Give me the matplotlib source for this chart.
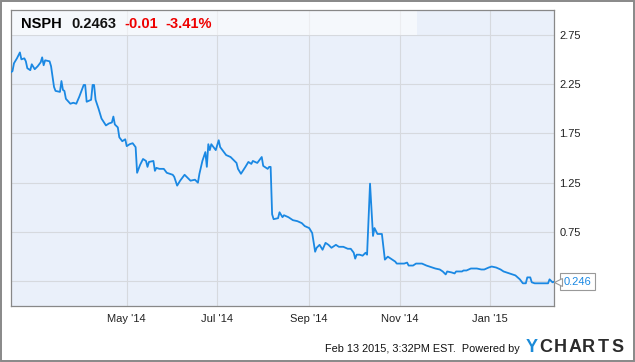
import matplotlib
matplotlib.use('Agg')
import matplotlib.pyplot as plt
import matplotlib.transforms as mtransforms
from matplotlib.patches import Rectangle
import pandas as pd

plt.rcParams['font.family'] = ['Liberation Sans', 'DejaVu Sans']

# price history
dates = [
    '2014-02-12', '2014-02-13', '2014-02-14', '2014-02-16', '2014-02-18', '2014-02-19',
    '2014-02-21', '2014-02-22', '2014-02-23', '2014-02-25', '2014-02-26', '2014-02-28',
    '2014-03-02', '2014-03-04', '2014-03-05', '2014-03-06', '2014-03-07', '2014-03-10',
    '2014-03-11', '2014-03-13', '2014-03-14', '2014-03-17', '2014-03-18', '2014-03-19',
    '2014-03-20', '2014-03-21', '2014-03-24', '2014-03-26', '2014-03-28', '2014-03-30',
    '2014-04-01', '2014-04-02', '2014-04-03', '2014-04-04', '2014-04-07', '2014-04-08',
    '2014-04-09', '2014-04-10', '2014-04-12', '2014-04-14', '2014-04-17', '2014-04-19',
    '2014-04-21', '2014-04-22', '2014-04-23', '2014-04-25', '2014-04-26', '2014-04-28',
    '2014-04-30', '2014-05-01', '2014-05-03', '2014-05-05', '2014-05-07', '2014-05-08',
    '2014-05-10', '2014-05-12', '2014-05-14', '2014-05-15', '2014-05-16', '2014-05-19',
    '2014-05-20', '2014-05-21', '2014-05-23', '2014-05-26', '2014-05-28', '2014-06-01',
    '2014-06-02', '2014-06-04', '2014-06-06', '2014-06-09', '2014-06-11', '2014-06-13',
    '2014-06-16', '2014-06-18', '2014-06-19', '2014-06-21', '2014-06-23', '2014-06-24',
    '2014-06-25', '2014-06-26', '2014-06-27', '2014-06-30', '2014-07-02', '2014-07-03',
    '2014-07-07', '2014-07-10', '2014-07-12', '2014-07-14', '2014-07-15', '2014-07-17',
    '2014-07-20', '2014-07-22', '2014-07-24', '2014-07-25', '2014-07-28', '2014-07-29',
    '2014-07-31', '2014-08-01', '2014-08-04', '2014-08-05', '2014-08-06', '2014-08-07',
    '2014-08-08', '2014-08-11', '2014-08-12', '2014-08-14', '2014-08-15', '2014-08-18',
    '2014-08-21', '2014-08-24', '2014-08-27', '2014-08-29', '2014-09-01', '2014-09-03',
    '2014-09-05', '2014-09-06', '2014-09-08', '2014-09-10', '2014-09-12', '2014-09-14',
    '2014-09-16', '2014-09-19', '2014-09-21', '2014-09-24', '2014-09-27', '2014-09-29',
    '2014-10-01', '2014-10-02', '2014-10-03', '2014-10-05', '2014-10-07', '2014-10-09',
    '2014-10-10', '2014-10-12', '2014-10-14', '2014-10-15', '2014-10-17', '2014-10-20',
    '2014-10-22', '2014-10-24', '2014-10-26', '2014-10-29', '2014-10-30', '2014-11-01',
    '2014-11-04', '2014-11-06', '2014-11-07', '2014-11-10', '2014-11-12', '2014-11-16',
    '2014-11-19', '2014-11-21', '2014-11-25', '2014-11-28', '2014-11-30', '2014-12-02',
    '2014-12-03', '2014-12-06', '2014-12-08', '2014-12-09', '2014-12-13', '2014-12-14',
    '2014-12-16', '2014-12-19', '2014-12-23', '2014-12-26', '2014-12-28', '2014-12-31',
    '2015-01-02', '2015-01-05', '2015-01-08', '2015-01-10', '2015-01-14', '2015-01-18',
    '2015-01-21', '2015-01-23', '2015-01-25', '2015-01-26', '2015-01-28', '2015-01-29',
    '2015-01-31', '2015-02-03', '2015-02-06', '2015-02-09', '2015-02-10', '2015-02-12',
    '2015-02-13',
]
prices = [
    2.37, 2.38, 2.46, 2.51, 2.57, 2.50,
    2.51, 2.48, 2.41, 2.39, 2.45, 2.40,
    2.43, 2.47, 2.52, 2.44, 2.49, 2.48,
    2.43, 2.22, 2.18, 2.17, 2.28, 2.19,
    2.18, 2.10, 2.05, 2.06, 2.05, 2.12,
    2.20, 2.24, 2.24, 2.07, 2.09, 2.24,
    2.24, 2.09, 2.00, 1.90, 1.83, 1.85,
    1.86, 1.92, 1.84, 1.81, 1.71, 1.67,
    1.69, 1.62, 1.64, 1.65, 1.61, 1.35,
    1.43, 1.49, 1.47, 1.41, 1.46, 1.47,
    1.37, 1.40, 1.39, 1.39, 1.35, 1.33,
    1.31, 1.22, 1.27, 1.33, 1.30, 1.27,
    1.28, 1.25, 1.34, 1.47, 1.56, 1.41,
    1.64, 1.58, 1.64, 1.58, 1.68, 1.61,
    1.53, 1.51, 1.48, 1.45, 1.39, 1.34,
    1.41, 1.46, 1.44, 1.47, 1.45, 1.47,
    1.51, 1.42, 1.39, 1.41, 1.41, 0.93,
    0.88, 0.89, 0.95, 0.90, 0.92, 0.90,
    0.87, 0.86, 0.84, 0.81, 0.79, 0.74,
    0.55, 0.59, 0.62, 0.57, 0.64, 0.62,
    0.59, 0.62, 0.60, 0.60, 0.58, 0.58,
    0.54, 0.48, 0.52, 0.52, 0.51, 0.54,
    0.52, 1.24, 0.71, 0.79, 0.73, 0.73,
    0.47, 0.50, 0.48, 0.45, 0.43, 0.43,
    0.43, 0.44, 0.41, 0.41, 0.43, 0.43,
    0.41, 0.40, 0.38, 0.37, 0.35, 0.32,
    0.35, 0.34, 0.33, 0.35, 0.35, 0.36,
    0.36, 0.38, 0.38, 0.37, 0.37, 0.39,
    0.40, 0.39, 0.37, 0.35, 0.33, 0.31,
    0.27, 0.23, 0.23, 0.29, 0.29, 0.24,
    0.23, 0.23, 0.23, 0.23, 0.27, 0.24,
    0.2463,
]
x_ticks = ['2014-05-01', '2014-07-01', '2014-09-01', '2014-11-01', '2015-01-01']
x_tick_labels = ["May '14", "Jul '14", "Sep '14", "Nov '14", "Jan '15"]
y_ticks = [0.25, 0.75, 1.25, 1.75, 2.25, 2.75]
# 0.25 label sits under the last-value tag, so it is left blank
y_tick_labels = ['', '0.75', '1.25', '1.75', '2.25', '2.75']

ticker = 'NSPH'
last_price = '0.2463'
change = '-0.01'
change_pct = '-3.41%'
end_label = '0.246'
stamp = 'Feb 13 2015, 3:32PM EST.  Powered by'

W, H = 635, 362
LINE = '#1a88e3'
GRAY = '#888888'

def fx(px):
    return px / W

def fy(py):
    return 1 - py / H

dts = pd.to_datetime(dates)

fig = plt.figure(figsize=(W / 100, H / 100), dpi=100)
ax = fig.add_axes([fx(11), fy(306), fx(554) - fx(11), (306 - 10) / H])
ax.set_facecolor('#eaf0fa')

ax.plot(dts, prices, color=LINE, linewidth=1.3, zorder=3, solid_joinstyle='round')

ax.set_xlim(pd.Timestamp('2014-02-12'), pd.Timestamp('2015-02-13'))
ax.set_ylim(0, 3.0)

ax.set_xticks(pd.to_datetime(x_ticks))
ax.set_xticklabels(x_tick_labels)
ax.set_yticks(y_ticks)
ax.set_yticklabels(y_tick_labels)
ax.yaxis.tick_right()
ax.tick_params(axis='y', length=0, pad=4, labelsize=8, labelcolor='#222222')
ax.tick_params(axis='x', length=0, pad=6, labelsize=8, labelcolor='#222222')
ax.grid(True, color='#d6d9de', linewidth=0.8, zorder=0)
ax.set_axisbelow(True)
for s in ax.spines.values():
    s.set_color(GRAY)
    s.set_linewidth(0.9)

# header band
ax.add_patch(Rectangle((0, (306 - 35) / 296), (417 - 11) / 543, 25 / 296,
                       transform=ax.transAxes, facecolor='white', alpha=0.55,
                       edgecolor='none', zorder=2))
hy = fy(24)
fig.text(fx(21), hy, ticker, fontsize=10.5, fontweight='bold', color='black', va='center')
fig.text(fx(71), hy, last_price, fontsize=10.5, fontweight='bold', color='#111111', va='center')
fig.text(fx(124), hy, change, fontsize=10.5, fontweight='bold', color='#ee0000', va='center')
fig.text(fx(165), hy, change_pct, fontsize=10.5, fontweight='bold', color='#ee0000', va='center')

# last value tag: box plus a small pointer
ax.annotate(end_label, xy=(dts[-1], prices[-1]), xytext=(7, 0), textcoords='offset points',
            ha='left', va='center', fontsize=8, color=LINE, annotation_clip=False, zorder=4,
            bbox=dict(boxstyle='square,pad=0.3', facecolor='white', edgecolor='#999999',
                      linewidth=0.8))
tip = mtransforms.offset_copy(ax.transData, fig=fig, x=3.5, y=0, units='dots')
ax.plot([dts[-1]], [prices[-1]], marker='<', markersize=5.5, markerfacecolor='white',
        markeredgecolor='#999999', markeredgewidth=0.8, transform=tip, clip_on=False,
        zorder=6)

# footer
fig.text(fx(520), fy(349), stamp, fontsize=7.8, color='#111111', ha='right', va='center')
logo = 'YCHARTS'
for i, ch in enumerate(logo):
    fig.text(fx(532 + 14.2 * i), fy(348), ch, fontsize=13, fontweight='bold',
             color='#1b8bd8' if ch == 'Y' else '#2b2b2b', ha='center', va='center')

# outer frame
fig.add_artist(Rectangle((0.001, 0.002), 0.997, 0.996, transform=fig.transFigure,
                         fill=False, edgecolor=GRAY, linewidth=1.4))

fig.savefig('out.png', dpi=100)
